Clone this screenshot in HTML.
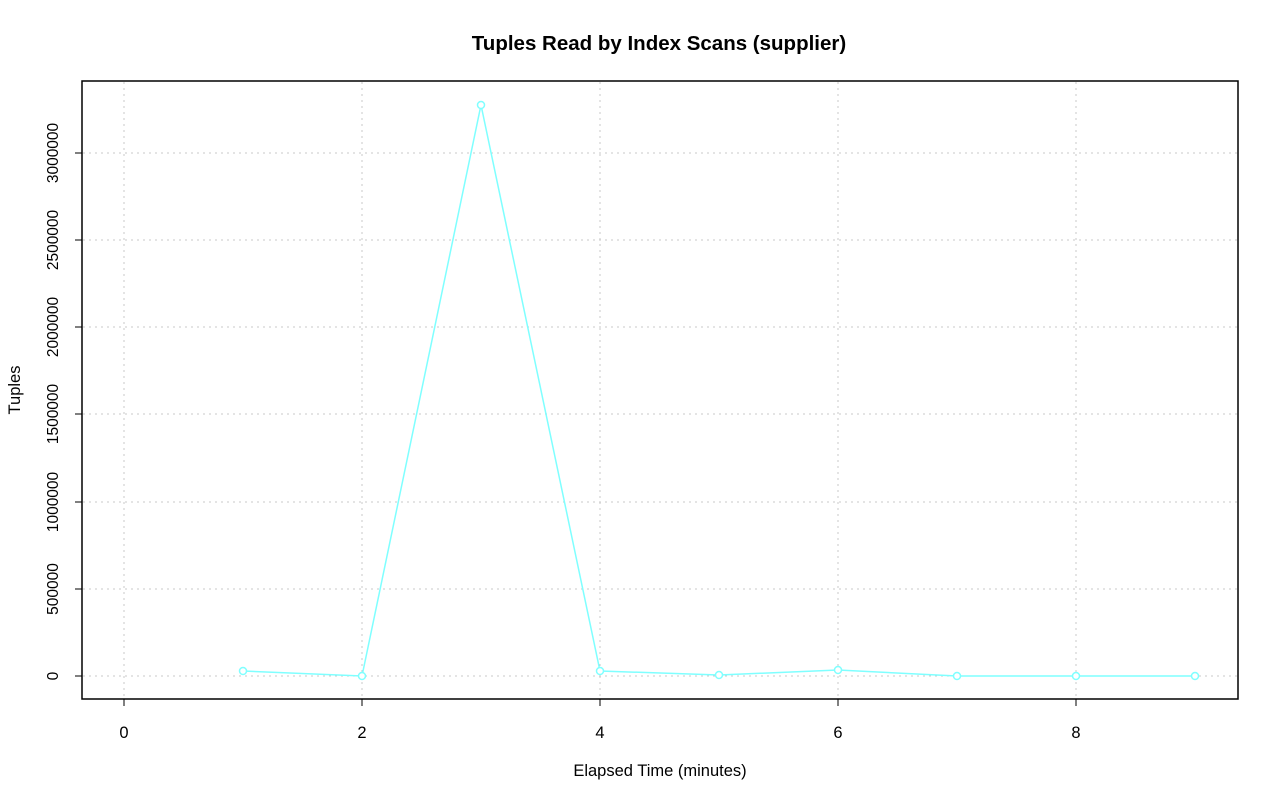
<!DOCTYPE html>
<html><head><meta charset="utf-8"><style>html,body{margin:0;padding:0;background:#fff}svg{display:block}</style></head>
<body>
<svg width="1280" height="801" xmlns="http://www.w3.org/2000/svg" font-family="Liberation Sans, sans-serif">
<rect width="1280" height="801" fill="#fff"/>
<text x="659" y="50" text-anchor="middle" font-size="20.5" font-weight="bold">Tuples Read by Index Scans (supplier)</text>
<g stroke="#c8c8c8" stroke-dasharray="2,4" stroke-width="1">
<line x1="124" y1="82" x2="124" y2="698"/>
<line x1="362" y1="82" x2="362" y2="698"/>
<line x1="600" y1="82" x2="600" y2="698"/>
<line x1="838" y1="82" x2="838" y2="698"/>
<line x1="1076" y1="82" x2="1076" y2="698"/>
<line x1="83" y1="676" x2="1237" y2="676"/>
<line x1="83" y1="589" x2="1237" y2="589"/>
<line x1="83" y1="502" x2="1237" y2="502"/>
<line x1="83" y1="414" x2="1237" y2="414"/>
<line x1="83" y1="327" x2="1237" y2="327"/>
<line x1="83" y1="240" x2="1237" y2="240"/>
<line x1="83" y1="153" x2="1237" y2="153"/>
</g>
<rect x="82" y="81" width="1156" height="618" fill="none" stroke="#000" stroke-width="1.5"/>
<g stroke="#000" stroke-width="1">
<line x1="124" y1="699" x2="1076" y2="699"/>
<line x1="124" y1="699" x2="124" y2="706"/>
<line x1="362" y1="699" x2="362" y2="706"/>
<line x1="600" y1="699" x2="600" y2="706"/>
<line x1="838" y1="699" x2="838" y2="706"/>
<line x1="1076" y1="699" x2="1076" y2="706"/>
<line x1="82" y1="153" x2="82" y2="676"/>
<line x1="82" y1="676" x2="75" y2="676"/>
<line x1="82" y1="589" x2="75" y2="589"/>
<line x1="82" y1="502" x2="75" y2="502"/>
<line x1="82" y1="414" x2="75" y2="414"/>
<line x1="82" y1="327" x2="75" y2="327"/>
<line x1="82" y1="240" x2="75" y2="240"/>
<line x1="82" y1="153" x2="75" y2="153"/>
</g>
<g font-size="16.5" text-anchor="middle">
<text x="124" y="738">0</text><text x="362" y="738">2</text><text x="600" y="738">4</text><text x="838" y="738">6</text><text x="1076" y="738">8</text>
<text x="660" y="776">Elapsed Time (minutes)</text>
<text transform="translate(20,390) rotate(-90)">Tuples</text>
</g>
<g font-size="15.5" text-anchor="middle">
<text transform="translate(58,676) rotate(-90)">0</text>
<text transform="translate(58,589) rotate(-90)">500000</text>
<text transform="translate(58,502) rotate(-90)">1000000</text>
<text transform="translate(58,414) rotate(-90)">1500000</text>
<text transform="translate(58,327) rotate(-90)">2000000</text>
<text transform="translate(58,240) rotate(-90)">2500000</text>
<text transform="translate(58,153) rotate(-90)">3000000</text>
</g>
<polyline fill="none" stroke="#7fffff" stroke-width="1.5" points="243,671 362,676 481,105 600,671 719,675 838,670 957,676 1076,676 1195,676"/>
<g fill="#fff" stroke="#7fffff" stroke-width="1.5">
<circle cx="243" cy="671" r="3.5"/><circle cx="362" cy="676" r="3.5"/><circle cx="481" cy="105" r="3.5"/>
<circle cx="600" cy="671" r="3.5"/><circle cx="719" cy="675" r="3.5"/><circle cx="838" cy="670" r="3.5"/>
<circle cx="957" cy="676" r="3.5"/><circle cx="1076" cy="676" r="3.5"/><circle cx="1195" cy="676" r="3.5"/>
</g>
</svg>
</body></html>
